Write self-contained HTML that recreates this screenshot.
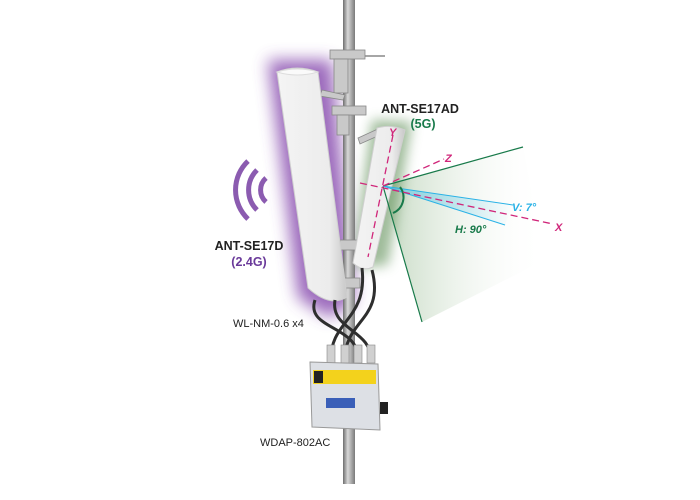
<!DOCTYPE html>
<html><head><meta charset="utf-8"><style>
html,body{margin:0;padding:0;background:#fff;width:700px;height:500px;overflow:hidden}
text{font-family:"Liberation Sans",Arial,sans-serif}
</style></head><body>
<svg width="700" height="500" viewBox="0 0 700 500" xmlns="http://www.w3.org/2000/svg">
<defs>
<linearGradient id="pole" x1="0" x2="1"><stop offset="0" stop-color="#6e6e6e"/><stop offset="0.4" stop-color="#d8d8d8"/><stop offset="1" stop-color="#7a7a7a"/></linearGradient>
<linearGradient id="ant" x1="0" x2="1"><stop offset="0" stop-color="#f4f4f4"/><stop offset="0.75" stop-color="#ececec"/><stop offset="1" stop-color="#c8c8c8"/></linearGradient>
<linearGradient id="gsh" x1="0" y1="0" x2="1" y2="0"><stop offset="0" stop-color="#9fc09a" stop-opacity="0.6"/><stop offset="1" stop-color="#ffffff" stop-opacity="0"/></linearGradient>
<linearGradient id="bsh" x1="0" x2="1"><stop offset="0" stop-color="#5cc7ea" stop-opacity="0.7"/><stop offset="1" stop-color="#5cc7ea" stop-opacity="0"/></linearGradient>
<filter id="blur" x="-50%" y="-50%" width="200%" height="200%"><feGaussianBlur stdDeviation="8"/></filter>
<filter id="blur2" x="-50%" y="-50%" width="200%" height="200%"><feGaussianBlur stdDeviation="6"/></filter>
</defs>
<polygon points="383,186 523,147 545,260 422,322" fill="url(#gsh)"/>
<polygon points="268,60 332,60 355,300 330,318 298,298" fill="#8a4fb0" opacity="0.85" filter="url(#blur)"/>
<polygon points="372,120 412,122 388,265 352,268" fill="#5e8f56" opacity="0.6" filter="url(#blur2)"/>
<rect x="343" y="0" width="12" height="484" fill="url(#pole)"/>
<g fill="#c9c9c9" stroke="#888" stroke-width="0.8">
<rect x="330" y="50" width="35" height="9"/><rect x="334" y="59" width="14" height="34"/>
<rect x="332" y="106" width="34" height="9"/><rect x="337" y="115" width="12" height="20"/>
<rect x="340" y="240" width="18" height="10"/><rect x="342" y="278" width="18" height="10"/>
<polygon points="322,90 345,95 343,100 320,96"/><polygon points="358,138 380,128 382,134 360,144"/>
</g>
<line x1="365" y1="56" x2="385" y2="56" stroke="#888" stroke-width="1.5"/>
<path d="M277,72 Q297,64 318,72 L347,297 Q330,308 308,288 Z" fill="url(#ant)" stroke="#cfcfcf" stroke-width="1"/>
<path d="M277,72 Q297,66 318,72 Q297,78 277,72Z" fill="#fafafa" stroke="#ddd"/>
<path d="M377,128 Q391,124 405,130 L373,267 Q363,272 353,263 Z" fill="url(#ant)" stroke="#cfcfcf" stroke-width="1"/>
<g fill="none" stroke="#2e2e2e" stroke-width="3">
<path d="M315,300 C305,330 360,325 358,360"/>
<path d="M335,300 C330,330 372,330 371,360"/>
<path d="M362,268 C368,320 330,320 331,360"/>
<path d="M372,270 C385,320 344,320 345,360"/>
</g>
<g fill="#d0d0d0" stroke="#888" stroke-width="0.6">
<rect x="327" y="345" width="8" height="18"/><rect x="341" y="345" width="8" height="18"/><rect x="354" y="345" width="8" height="18"/><rect x="367" y="345" width="8" height="18"/>
</g>
<polygon points="310,362 378,364 380,430 312,427" fill="#dde0e5" stroke="#999" stroke-width="1"/>
<rect x="313" y="370" width="63" height="14" fill="#f3d21c"/>
<rect x="314" y="371" width="9" height="12" fill="#222"/>
<rect x="326" y="398" width="29" height="10" fill="#3a5fb8"/>
<rect x="380" y="402" width="8" height="12" fill="#222"/>
<g fill="none" stroke="#8b5bb0" stroke-width="5">
<path d="M266,178 A16,16 0 0 0 266,202"/>
<path d="M257,170 A28,28 0 0 0 257,210"/>
<path d="M248,161 A40,40 0 0 0 248,219"/>
</g>
<line x1="383" y1="186" x2="523" y2="147" stroke="#187a4a" stroke-width="1.2"/>
<line x1="383" y1="186" x2="422" y2="322" stroke="#187a4a" stroke-width="1.2"/>
<polygon points="383,186 513,205 505,225" fill="url(#bsh)"/>
<line x1="383" y1="186" x2="513" y2="205" stroke="#2ab2e6" stroke-width="1"/>
<line x1="383" y1="186" x2="505" y2="225" stroke="#2ab2e6" stroke-width="1"/>
<path d="M400,187 A17,17 0 0 1 393,213" fill="none" stroke="#187a4a" stroke-width="2"/>
<g stroke="#d0267a" stroke-width="1.3" stroke-dasharray="7,4" fill="none">
<line x1="393" y1="135" x2="368" y2="257"/>
<line x1="383" y1="186" x2="444" y2="159"/>
<line x1="360" y1="183" x2="553" y2="224"/>
</g>
<g font-size="11" font-style="italic" font-weight="bold">
<text x="389" y="136" fill="#d0267a">Y</text>
<text x="445" y="162" fill="#d0267a">Z</text>
<text x="555" y="231" fill="#d0267a">X</text>
<text x="512" y="211" fill="#2ab2e6">V: 7°</text>
<text x="455" y="233" fill="#187a4a">H: 90°</text>
</g>
<g font-size="12.5" font-weight="bold" text-anchor="middle">
<text x="420" y="113" fill="#222">ANT-SE17AD</text>
<text x="423" y="128" fill="#187a4a">(5G)</text>
<text x="249" y="250" fill="#222">ANT-SE17D</text>
<text x="249" y="266" fill="#6a3a9a">(2.4G)</text>
</g>
<text x="233" y="327" font-size="11" fill="#222">WL-NM-0.6 x4</text>
<text x="260" y="446" font-size="11" fill="#222">WDAP-802AC</text>
</svg>
</body></html>
